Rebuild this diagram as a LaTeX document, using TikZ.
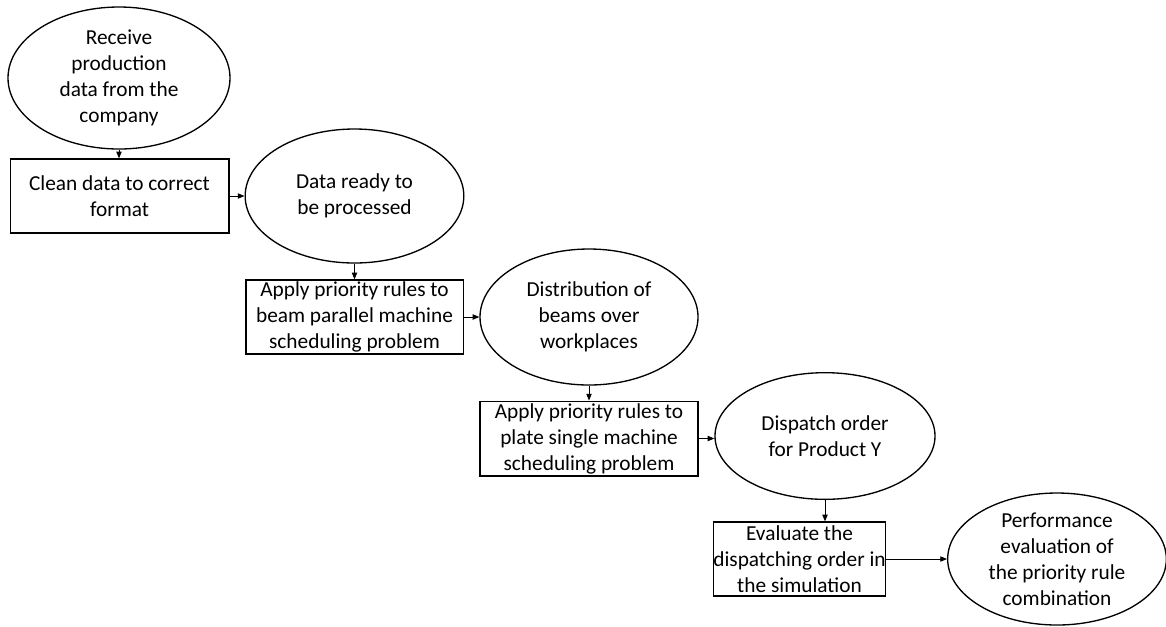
\documentclass[tikz,border=0pt]{standalone}
\usepackage{fontspec}
\setmainfont{Carlito}
\usetikzlibrary{shapes.geometric,arrows.meta}
\begin{document}
\begin{tikzpicture}[x=0.75pt,y=-0.75pt,
  every node/.style={font=\fontsize{16pt}{19.5pt}\selectfont, align=center, inner sep=0pt, line width=1pt},
  oval/.style={draw, ellipse, minimum width=#1},
  stepbox/.style={draw, rectangle},
  flow/.style={draw, line width=0.6pt, -{Triangle[length=5pt,width=4pt]}}]
\useasboundingbox (0,0) rectangle (1166,626);

% states (ellipses)
\node[oval, minimum width=166.5pt, minimum height=106.5pt] (e1) at (119,78) {Receive\\production\\data from the\\company};
\node[oval, minimum width=164pt, minimum height=100.5pt] (e2) at (354.5,196) {Data ready to\\be processed};
\node[oval, minimum width=163.5pt, minimum height=102pt] (e3) at (589,317) {Distribution of\\beams over\\workplaces};
\node[oval, minimum width=165pt, minimum height=95pt] (e4) at (825,436) {Dispatch order\\for Product Y};
\node[oval, minimum width=164pt, minimum height=99pt] (e5) at (1057,559) {Performance\\evaluation of\\the priority rule\\combination};

% processing steps (boxes)
\node[stepbox, minimum width=164pt, minimum height=55.5pt] (b1) at (119.5,196) {Clean data to correct\\format};
\node[stepbox, minimum width=163pt, minimum height=55.5pt] (b2) at (354.5,317) {Apply priority rules to\\beam parallel machine\\scheduling problem};
\node[stepbox, minimum width=163.5pt, minimum height=56pt] (b3) at (589,438.5) {Apply priority rules to\\plate single machine\\scheduling problem};
\node[stepbox, minimum width=128pt, minimum height=55.5pt] (b4) at (799.5,559) {Evaluate the\\dispatching order in\\the simulation};

% connectors
\draw[flow] (e1.south) -- (e1.south |- b1.north);
\draw[flow] (b1.east) -- (b1.east -| e2.west);
\draw[flow] (e2.south) -- (e2.south |- b2.north);
\draw[flow] (b2.east) -- (b2.east -| e3.west);
\draw[flow] (e3.south) -- (e3.south |- b3.north);
\draw[flow] (b3.east) -- (b3.east -| e4.west);
\draw[flow] (e4.south) -- (e4.south |- b4.north);
\draw[flow] (b4.east) -- (b4.east -| e5.west);
\end{tikzpicture}
\end{document}
